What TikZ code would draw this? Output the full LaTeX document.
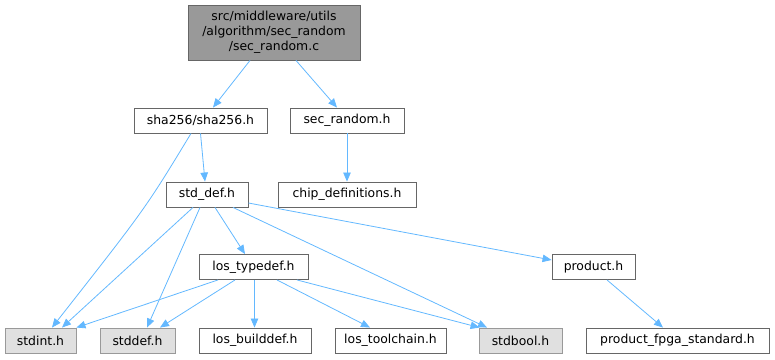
\documentclass[tikz,border=0pt]{standalone}
\usepackage{fontspec}
\setmainfont{DejaVu Sans}
\usetikzlibrary{arrows.meta,positioning,calc}
\definecolor{edgeblue}{RGB}{99,184,255}
\definecolor{boxgray}{RGB}{102,102,102}
\definecolor{sysgray}{RGB}{224,224,224}
\definecolor{sysline}{RGB}{153,153,153}
\definecolor{maingray}{RGB}{153,153,153}

\begin{document}
\begin{tikzpicture}[x=1pt, y=1pt,
    every node/.style={font=\fontsize{12.4}{15}\selectfont, inner sep=0pt, minimum height=25pt},
    file/.style={draw=boxgray, fill=white, line width=0.9pt},
    sysfile/.style={draw=sysline, fill=sysgray, line width=0.9pt},
    inc/.style={-{Triangle[length=9pt, width=7.5pt]}, draw=edgeblue, line width=0.8pt}]
    \useasboundingbox (0,0) rectangle (775,-359);
    \node[draw=boxgray, fill=maingray, line width=0.9pt, minimum width=172pt, minimum height=55pt, align=center] (main) at (274,-32.5) {src/middleware/utils\\/algorithm/sec\_random\\/sec\_random.c};
    \node[file, minimum width=133pt] (sha) at (200.5,-120.5) {sha256/sha256.h};
    \node[file, minimum width=114pt] (secrand) at (347,-120.5) {sec\_random.h};
    \node[file, minimum width=82pt] (stddefh) at (207,-194.5) {std\_def.h};
    \node[file, minimum width=138pt] (chipdef) at (347,-194.5) {chip\_definitions.h};
    \node[file, minimum width=109pt] (typedef) at (253.5,-267) {los\_typedef.h};
    \node[file, minimum width=83pt] (product) at (593.5,-267) {product.h};
    \node[sysfile, minimum width=71pt] (stdint) at (40.5,-340.5) {stdint.h};
    \node[sysfile, minimum width=75pt] (stddef) at (137.5,-340.5) {stddef.h};
    \node[file, minimum width=112pt] (builddef) at (255,-340.5) {los\_builddef.h};
    \node[file, minimum width=111pt] (toolchain) at (390.5,-340.5) {los\_toolchain.h};
    \node[sysfile, minimum width=83pt] (stdbool) at (520.5,-340.5) {stdbool.h};
    \node[file, minimum width=183pt] (fpga) at (677.5,-340.5) {product\_fpga\_standard.h};

    \draw[inc] ([xshift=-24pt]main.south) -- ([xshift=12.5pt]sha.north);
    \draw[inc] ([xshift=22pt]main.south) -- ([xshift=-10pt]secrand.north);
    \draw[inc] (sha.south) -- ([xshift=-2pt]stddefh.north);
    \draw[inc] ([xshift=-9.5pt]sha.south) .. controls ($(sha.south)+(-55pt,-75pt)$) .. ([xshift=11.5pt]stdint.north);
    \draw[inc] (secrand.south) -- (chipdef.north);
    \draw[inc] ([xshift=-14pt]stddefh.south) -- ([xshift=21.5pt]stdint.north);
    \draw[inc] ([xshift=-7pt]stddefh.south) -- ([xshift=9.5pt]stddef.north);
    \draw[inc] ([xshift=8pt]stddefh.south) -- ([xshift=-8.5pt]typedef.north);
    \draw[inc] ([xshift=26pt]stddefh.south) -- ([xshift=-33.5pt]stdbool.north);
    \draw[inc] ([yshift=-8.5pt]stddefh.east) -- ([yshift=7pt]product.west);
    \draw[inc] ([xshift=-35.5pt]typedef.south) -- (stdint.north east);
    \draw[inc] ([xshift=-18.5pt]typedef.south) -- ([xshift=22.5pt]stddef.north);
    \draw[inc] ([xshift=1pt]typedef.south) -- ([xshift=1pt]typedef.south |- builddef.north);
    \draw[inc] ([xshift=23.5pt]typedef.south) -- ([xshift=-20.5pt]toolchain.north);
    \draw[inc] ([xshift=43.5pt]typedef.south) -- ([xshift=1pt]stdbool.north west);
    \draw[inc] ([xshift=13.5pt]product.south) -- ([xshift=-14.5pt]fpga.north);
\end{tikzpicture}
\end{document}
